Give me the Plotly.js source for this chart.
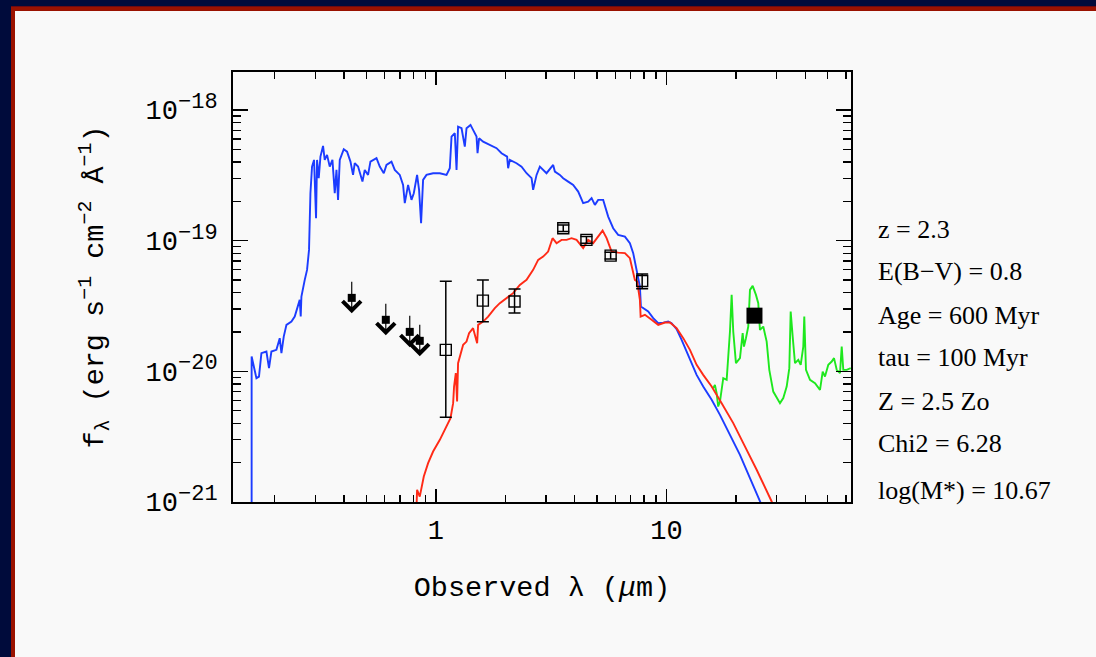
<!DOCTYPE html>
<html>
<head>
<meta charset="utf-8">
<script src="https://cdn.plot.ly/plotly-3.0.1.min.js"></script>
<style>
  html, body { margin: 0; padding: 0; width: 1096px; height: 657px; overflow: hidden; background: #000b3b; }
  #frame { position: absolute; left: 11px; top: 6px; right: 0; bottom: 0; background: #9a1200; border-top: 1px solid #6c0a12; }
  #inner { position: absolute; left: 15px; top: 11px; right: 0; bottom: 0; background: #f9f9f9; }
  #chart { position: absolute; left: 0; top: 0; width: 1096px; height: 657px; }
</style>
</head>
<body>
<div id="frame"></div>
<div id="inner"></div>
<div id="chart"></div>
<script>
// Flux densities below are in units of 1e-20 erg s^-1 cm^-2 A^-1, wavelengths in micron.
const FLUX_UNIT = 1e-20;

// Unreddened stellar population model
const blueLam = [0.159, 0.159, 0.1668, 0.1711, 0.1753, 0.1843, 0.1891, 0.1937, 0.2036, 0.2105, 0.2141, 0.2191,
  0.2251, 0.2366, 0.2445, 0.2502, 0.2570, 0.2596, 0.2614, 0.2702, 0.2765, 0.2820, 0.2860, 0.2906, 0.2965, 0.3025,
  0.3055, 0.3107, 0.3161, 0.3244, 0.3299, 0.3376, 0.3468, 0.3563, 0.3646, 0.3709, 0.3768, 0.3833, 0.3989, 0.4123,
  0.4265, 0.4377, 0.4452, 0.4601, 0.4808, 0.4920, 0.5084, 0.5207, 0.5531, 0.5715, 0.5949, 0.6111, 0.6424, 0.6639,
  0.6979, 0.7213, 0.7337, 0.7583, 0.7845, 0.8028, 0.8296, 0.8462, 0.8633, 0.8808, 0.9113, 0.9734, 1.041, 1.113,
  1.150, 1.170, 1.209, 1.230, 1.249, 1.293, 1.336, 1.359, 1.414, 1.451, 1.502, 1.517, 1.541, 1.604, 1.715, 1.834,
  1.928, 2.038, 2.059, 2.094, 2.239, 2.354, 2.475, 2.602, 2.643, 2.735, 2.826, 2.874, 3.021, 3.228, 3.283, 3.451,
  3.567, 3.750, 3.942, 4.144, 4.355, 4.578, 4.737, 4.896, 5.059, 5.319, 5.591, 5.877, 6.178, 6.607, 6.944, 7.178,
  7.374, 7.545, 7.674, 7.752, 7.932, 8.337, 8.765, 9.214, 9.685, 10.18, 10.53, 11.07, 11.64, 12.24, 12.86, 13.52,
  14.44, 15.71, 17.07, 18.86, 20.84, 23.03, 25.44, 26.2];
const blueFlux = [0.08, 1.298, 0.887, 0.912, 1.378, 1.418, 1.058, 1.418, 1.460, 1.795, 1.378, 1.846,
  2.269, 2.404, 2.626, 2.955, 3.524, 2.626, 3.736, 5.012, 5.977, 8.503, 23.09, 36.90, 41.52, 14.86,
  41.52, 30.08, 44.00, 53.13, 41.52, 45.34, 36.90, 41.52, 23.09, 34.81, 20.52, 41.52, 50.13, 48.05,
  40.30, 31.87, 39.17, 36.90, 28.33, 34.81, 31.87, 40.30, 42.78, 36.90, 32.84, 38.02, 40.30, 34.81,
  31.87, 26.73, 19.36, 26.73, 20.52, 23.09, 31.87, 24.47, 13.61, 29.19, 31.87, 32.84, 32.84, 31.87,
  35.87, 62.58, 66.44, 34.81, 74.64, 72.56, 52.5, 72.56, 76.91, 70.42, 62.58, 46.72, 60.83, 57.31, 54.08, 51.03,
  46.72, 44.00, 35.87, 41.52, 39.17, 36.90, 32.84, 30.08, 24.47, 31.87, 36.90, 35.87, 32.84, 38.02, 33.79, 31.87,
  30.08, 28.33, 26.73, 23.75, 19.36, 19.92, 21.15, 18.79, 20.52, 20.52, 15.29, 12.46, 11.08, 10.75, 9.57, 8.025,
  6.337, 5.313, 4.455, 3.131, 3.044, 2.868, 2.553, 2.338, 2.362, 2.404, 2.338, 2.103, 1.742, 1.418, 1.121, 0.940,
  0.765, 0.605, 0.4648, 0.3266, 0.2297, 0.1524, 0.1009, 0.09];

// Best-fit reddened model
const redLam = [0.8246, 0.8296, 0.852, 0.867, 0.887, 0.926, 0.9734, 1.041, 1.113, 1.158, 1.189, 1.200, 1.221,
  1.237, 1.249, 1.280, 1.314, 1.359, 1.394, 1.451, 1.511, 1.526, 1.604, 1.686, 1.803, 1.895, 2.026, 2.164,
  2.314, 2.475, 2.643, 2.779, 2.921, 3.070, 3.208, 3.339, 3.510, 3.690, 3.879, 4.077, 4.355, 4.578, 4.813,
  5.059, 5.288, 5.504, 5.785, 6.178, 6.607, 6.944, 7.298, 7.470, 7.674, 7.730, 8.068, 8.626, 9.214, 9.851,
  10.36, 11.07, 11.83, 12.65, 13.52, 14.44, 15.71, 17.36, 19.49, 21.54, 24.62, 28.60, 29.6];
const redFlux = [0.09, 0.124, 0.110, 0.1277, 0.1567, 0.1984, 0.2434, 0.2991, 0.3781, 0.4385, 0.571, 0.765, 0.969,
  0.5874, 1.155, 1.378, 1.595, 1.690, 1.960, 2.141, 1.643, 2.269, 2.404, 2.626, 3.044, 3.325, 3.632, 3.966,
  4.589, 5.012, 5.977, 7.131, 7.557, 8.253, 10.45, 9.57, 10.14, 10.14, 10.45, 10.14, 8.762, 10.14, 9.57,
  10.75, 11.95, 10.45, 8.253, 8.108, 8.025, 7.347, 5.012, 4.865, 3.524, 2.626, 2.706, 2.478, 2.269, 2.362,
  2.362, 2.141, 1.795, 1.460, 1.121, 0.940, 0.765, 0.571, 0.4016, 0.2823, 0.1764, 0.1009, 0.09];

// Dust emission template
const greenLam = [15.96, 16.23, 16.51, 16.77, 17.07, 17.36, 17.64, 18.25, 18.54, 18.86, 19.18, 19.49, 20.02,
  20.84, 21.41, 21.69, 22.13, 22.64, 23.03, 23.66, 24.45, 25.02, 25.44, 26.30, 27.21, 27.93, 29.06, 30.07,
  31.08, 32.12, 33.23, 34.11, 34.58, 35.28, 36.10, 37.31, 38.22, 39.22, 39.61, 40.29, 41.94, 44.09, 46.34,
  47.61, 48.71, 50.35, 52.09, 53.30, 54.76, 56.59, 57.56, 58.48, 60.50, 63.0];
const greenFlux = [0.744, 0.788, 0.681, 0.538, 0.587, 0.765, 0.887, 0.861, 1.225, 2.016, 3.848, 2.016, 1.155,
  1.262, 1.960, 1.548, 1.795, 2.202, 4.203, 4.510, 3.848, 3.325, 2.077, 2.202, 1.690, 1.027, 0.700, 0.624,
  0.571, 0.624, 0.765, 1.058, 2.868, 1.846, 1.155, 1.225, 1.121, 1.548, 2.626, 1.027, 0.861, 0.812, 0.722,
  0.996, 0.912, 1.121, 1.189, 1.262, 1.027, 0.969, 1.548, 1.027, 1.027, 1.058];

// Optical upper limits (B, V, i, z)
const limLam = [0.432, 0.607, 0.771, 0.852];
const limFlux = [3.65, 2.48, 2.005, 1.712];

// Near-IR and IRAC detections with 1-sigma bounds
const detLam = [1.105, 1.60, 2.195, 3.57, 4.50, 5.73, 7.85];
const detFlux = [1.460, 3.48, 3.42, 12.46, 10.14, 7.69, 4.92];
const detHigh = [4.90, 5.01, 4.26, 13.2, 10.75, 8.15, 5.57];
const detLow = [0.446, 2.40, 2.79, 11.75, 9.55, 7.25, 4.28];

// MIPS 24 micron detection
const mipsLam = [24.09];
const mipsFlux = [2.668];

// Fit parameters listed beside the plot
const fitLabels = ['z = 2.3', 'E(B\u2212V) = 0.8', 'Age = 600 Myr', 'tau = 100 Myr',
  'Z = 2.5 Zo', 'Chi2 = 6.28', 'log(M*) = 10.67'];

// Axis ticks
const sup = s => '<sup><span style="font-size:22px">' + s + '</span></sup>';
const yTickVals = [1e-21, 1e-20, 1e-19, 1e-18];
const yTickText = ['10' + sup('\u221221'), '10' + sup('\u221220'), '10' + sup('\u221219'), '10' + sup('\u221218')];
const yMinorVals = [2e-21, 3e-21, 4e-21, 5e-21, 6e-21, 7e-21, 8e-21, 9e-21,
  2e-20, 3e-20, 4e-20, 5e-20, 6e-20, 7e-20, 8e-20, 9e-20,
  2e-19, 3e-19, 4e-19, 5e-19, 6e-19, 7e-19, 8e-19, 9e-19];
const xTickVals = [1, 10];
const xTickText = ['1', '10'];
const xMinorVals = [0.2, 0.3, 0.4, 0.5, 0.6, 0.7, 0.8, 0.9, 2, 3, 4, 5, 6, 7, 8, 9, 20, 30, 40, 50, 60];

const toFlux = arr => arr.map(v => v * FLUX_UNIT);

const traces = [
  { x: blueLam, y: toFlux(blueFlux), mode: 'lines', line: { color: '#1c3cff', width: 1.9 }, hoverinfo: 'skip' },
  { x: greenLam, y: toFlux(greenFlux), mode: 'lines', line: { color: '#1ee81e', width: 1.9 }, hoverinfo: 'skip' },
  { x: redLam, y: toFlux(redFlux), mode: 'lines', line: { color: '#ff2a16', width: 1.9 }, hoverinfo: 'skip' },
  {
    x: detLam, y: toFlux(detFlux), mode: 'markers',
    marker: { symbol: 'square-open', size: 11, color: '#000', line: { width: 1.4, color: '#000' } },
    error_y: {
      type: 'data', symmetric: false,
      array: detHigh.map((h, i) => (h - detFlux[i]) * FLUX_UNIT),
      arrayminus: detLow.map((l, i) => (detFlux[i] - l) * FLUX_UNIT),
      color: '#000', thickness: 1.5, width: 6
    }
  },
  { x: limLam, y: toFlux(limFlux), mode: 'markers', marker: { symbol: 'square', size: 8, color: '#000' } },
  { x: mipsLam, y: toFlux(mipsFlux), mode: 'markers', marker: { symbol: 'square', size: 16, color: '#000' } }
];

// Downward arrows for the upper limits: head below the point, tail above it
const ARROW_DROP = 0.118; // decades
const annotations = limLam.map((l, i) => ({
  x: Math.log10(l), y: Math.log10(limFlux[i] * FLUX_UNIT) - ARROW_DROP,
  xref: 'x', yref: 'y', ax: 0, ay: -33, text: '', showarrow: true,
  arrowhead: 4, arrowsize: 3.1, arrowwidth: 1.15, arrowcolor: '#000'
}));

const labelY = [0.6326, 0.5349, 0.4326, 0.3349, 0.2326, 0.1349, 0.0279];
fitLabels.forEach((t, i) => annotations.push({
  text: t, xref: 'paper', yref: 'paper', x: 1.041, y: labelY[i],
  xanchor: 'left', yanchor: 'middle', showarrow: false,
  font: { family: 'Liberation Serif, Times New Roman, serif', size: 26, color: '#000' }
}));

const monoFont = { family: 'Liberation Mono, DejaVu Sans Mono, monospace', size: 27, color: '#000' };
const titleFont = { family: 'Liberation Mono, DejaVu Sans Mono, monospace', size: 28.5, color: '#000' };

const layout = {
  width: 1096, height: 657,
  margin: { l: 233, r: 245, t: 72, b: 155, pad: 0 },
  paper_bgcolor: 'rgba(0,0,0,0)',
  plot_bgcolor: '#f9f9f9',
  showlegend: false,
  xaxis: {
    type: 'log', range: [-0.8794, 1.8004], autorange: false,
    tickmode: 'array', tickvals: xTickVals, ticktext: xTickText,
    ticks: 'inside', ticklen: 13, tickwidth: 1.6, tickcolor: '#000',
    minor: { tickmode: 'array', tickvals: xMinorVals, ticks: 'inside', ticklen: 7, tickwidth: 1.4, tickcolor: '#000', showgrid: false },
    showline: true, linecolor: '#000', linewidth: 2, mirror: 'ticks',
    showgrid: false, zeroline: false,
    tickfont: monoFont, ticklabelstandoff: 3,
    title: { text: 'Observed \u03bb (<i>\u03bc</i>m)', font: titleFont, standoff: 30 }
  },
  yaxis: {
    type: 'log', range: [-21, -17.709], autorange: false,
    tickmode: 'array', tickvals: yTickVals, ticktext: yTickText,
    ticks: 'inside', ticklen: 15, tickwidth: 1.6, tickcolor: '#000',
    minor: { tickmode: 'array', tickvals: yMinorVals, ticks: 'inside', ticklen: 8, tickwidth: 1.4, tickcolor: '#000', showgrid: false },
    showline: true, linecolor: '#000', linewidth: 2, mirror: 'ticks',
    showgrid: false, zeroline: false,
    tickfont: monoFont, ticklabelstandoff: 8,
    title: { text: 'f<sub>\u03bb</sub> (erg s<sup>\u22121</sup> cm<sup>\u22122</sup> \u00c5<sup>\u22121</sup>)', font: titleFont, standoff: 34 }
  },
  annotations: annotations
};

Plotly.newPlot('chart', traces, layout, { staticPlot: true, displayModeBar: false });
</script>
</body>
</html>
